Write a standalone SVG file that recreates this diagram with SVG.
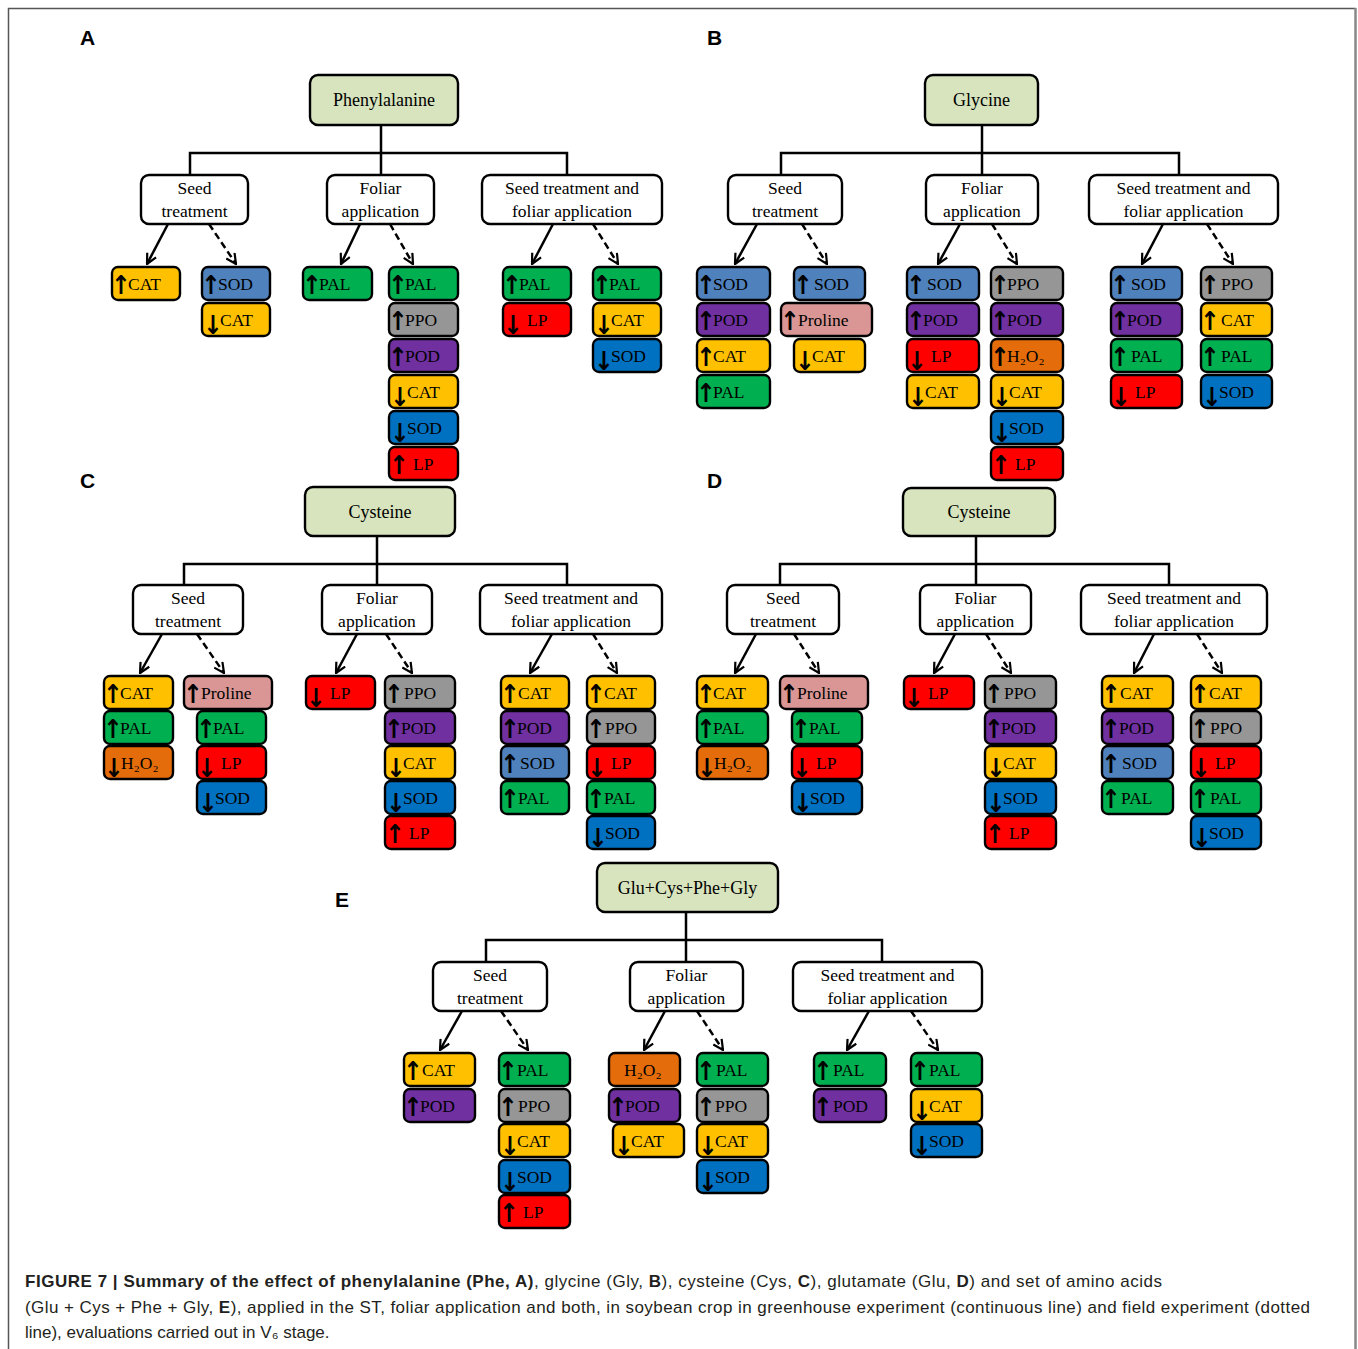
<svg xmlns="http://www.w3.org/2000/svg" width="1358" height="1349" viewBox="0 0 1358 1349">
<style>
.it rect,.hd rect,.rt rect{stroke:#000;stroke-width:2.4}
.hd rect{fill:#fff}
.rt rect{fill:#d7e4bd}
.cat rect{fill:#ffc000}.sodu rect{fill:#4f81bd}.sodd rect{fill:#0070c0}.pal rect{fill:#00b050}.ppo rect{fill:#969696}.pod rect{fill:#7030a0}.lp rect{fill:#ff0000}.pro rect{fill:#d99694}.h2o rect{fill:#e46c0a}
text.t{font-family:"Liberation Serif","Times New Roman","DejaVu Serif",serif;font-size:17.5px;fill:#000}
.a{font-family:"DejaVu Sans Condensed","DejaVu Sans",sans-serif;font-size:26px;font-weight:bold;text-anchor:middle}
text.h{font-family:"Liberation Serif","Times New Roman",serif;font-size:17.5px;text-anchor:middle;fill:#000}
text.r{font-family:"Liberation Serif","Times New Roman",serif;font-size:18px;text-anchor:middle;fill:#000}
text.pl{font-family:"Liberation Sans",Arial,sans-serif;font-size:21px;font-weight:bold;fill:#000}
text.cap{font-family:"Liberation Sans",Arial,sans-serif;font-size:17px;fill:#231f20}
.ln{fill:none;stroke:#000;stroke-width:2.5}
.so{fill:none;stroke:#000;stroke-width:2.5;marker-end:url(#ah)}
.da{fill:none;stroke:#000;stroke-width:2.5;stroke-dasharray:7 4;marker-end:url(#ah)}
</style>
<defs>
<marker id="ah" markerUnits="userSpaceOnUse" viewBox="0 0 12 12" refX="11" refY="6" markerWidth="12" markerHeight="12" orient="auto">
<path d="M1,1 L11,6 L1,11" fill="none" stroke="#000" stroke-width="2.2"/>
</marker>
</defs>
<rect x="0" y="0" width="1358" height="1349" fill="#fff"/>
<g id="frame" fill="none">
<path d="M8.5,1349 V8.5 H1356" stroke="#555" stroke-width="1.5"/>
<path d="M1355.5,8 V1349" stroke="#888" stroke-width="2.5"/>
</g>
<g id="panel-labels">
<text class="pl" x="80" y="45">A</text>
<text class="pl" x="707" y="45">B</text>
<text class="pl" x="80" y="488">C</text>
<text class="pl" x="707" y="488">D</text>
<text class="pl" x="335" y="907">E</text>
</g>
<g id="connectors">
<path class="ln" d="M381,125 V153 M190,175 V153 H567 V175 M381,153 V175"/>
<path class="ln" d="M982,125 V153 M781,175 V153 H1179 V175 M982,153 V175"/>
<path class="ln" d="M377,536 V564 M184,585 V564 H567 V585 M377,564 V585"/>
<path class="ln" d="M976,536 V564 M780,585 V564 H1169 V585 M976,564 V585"/>
<path class="ln" d="M686,912 V940 M486,962 V940 H882 V962 M686,940 V962"/>
<path class="so" d="M168,224 L147,264"/><path class="da" d="M209,224 L236,264"/>
<path class="so" d="M360,224 L341,264"/><path class="da" d="M390,224 L413,264"/>
<path class="so" d="M553,224 L532,264"/><path class="da" d="M593,224 L618,264"/>
<path class="so" d="M757,224 L735,264"/><path class="da" d="M802,224 L827,264"/>
<path class="so" d="M960,224 L938,264"/><path class="da" d="M992,224 L1017,264"/>
<path class="so" d="M1163,224 L1142,264"/><path class="da" d="M1207,224 L1233,264"/>
<path class="so" d="M162,634 L140,673"/><path class="da" d="M197,634 L224,673"/>
<path class="so" d="M357,634 L336,673"/><path class="da" d="M386,634 L412,673"/>
<path class="so" d="M552,634 L530,673"/><path class="da" d="M593,634 L617,673"/>
<path class="so" d="M756,634 L735,673"/><path class="da" d="M794,634 L819,673"/>
<path class="so" d="M955,634 L934,673"/><path class="da" d="M986,634 L1011,673"/>
<path class="so" d="M1154,634 L1134,673"/><path class="da" d="M1197,634 L1222,673"/>
<path class="so" d="M462,1011 L440,1050"/><path class="da" d="M501,1011 L528,1050"/>
<path class="so" d="M665,1011 L644,1050"/><path class="da" d="M697,1011 L723,1050"/>
<path class="so" d="M869,1011 L847,1050"/><path class="da" d="M911,1011 L938,1050"/>
</g>
<g id="A-root" class="rt"><rect x="310" y="75" width="148" height="50" rx="8"/><text class="r" x="384" y="106">Phenylalanine</text></g>
<g id="A-seed" class="hd"><rect x="141" y="175" width="107" height="49" rx="8"/><text class="h" x="194.5" y="194">Seed</text><text class="h" x="194.5" y="217">treatment</text></g>
<g id="A-foliar" class="hd"><rect x="327" y="175" width="107" height="49" rx="8"/><text class="h" x="380.5" y="194">Foliar</text><text class="h" x="380.5" y="217">application</text></g>
<g id="A-both" class="hd"><rect x="482" y="175" width="180" height="49" rx="8"/><text class="h" x="572" y="194">Seed treatment and</text><text class="h" x="572" y="217">foliar application</text></g>
<g id="A-seed-greenhouse">
<g class="it cat" transform="translate(112,267)"><rect width="68" height="33" rx="6"/><text class="t"><tspan class="a" x="9" y="27">↑</tspan><tspan x="16" y="23">CAT</tspan></text></g>
</g>
<g id="A-seed-field">
<g class="it sodu" transform="translate(202,267)"><rect width="68" height="33" rx="6"/><text class="t"><tspan class="a" x="9" y="27">↑</tspan><tspan x="16" y="23">SOD</tspan></text></g>
<g class="it cat" transform="translate(202,303)"><rect width="68" height="33" rx="6"/><text class="t"><tspan class="a" x="11" y="31">↓</tspan><tspan x="18" y="23">CAT</tspan></text></g>
</g>
<g id="A-foliar-greenhouse">
<g class="it pal" transform="translate(303,267)"><rect width="69" height="33" rx="6"/><text class="t"><tspan class="a" x="9" y="27">↑</tspan><tspan x="16" y="23">PAL</tspan></text></g>
</g>
<g id="A-foliar-field">
<g class="it pal" transform="translate(389,267)"><rect width="69" height="33" rx="6"/><text class="t"><tspan class="a" x="9" y="27">↑</tspan><tspan x="16" y="23">PAL</tspan></text></g>
<g class="it ppo" transform="translate(389,303)"><rect width="69" height="33" rx="6"/><text class="t"><tspan class="a" x="9" y="27">↑</tspan><tspan x="16" y="23">PPO</tspan></text></g>
<g class="it pod" transform="translate(389,339)"><rect width="69" height="33" rx="6"/><text class="t"><tspan class="a" x="9" y="27">↑</tspan><tspan x="16" y="23">POD</tspan></text></g>
<g class="it cat" transform="translate(389,375)"><rect width="69" height="33" rx="6"/><text class="t"><tspan class="a" x="11" y="31">↓</tspan><tspan x="18" y="23">CAT</tspan></text></g>
<g class="it sodd" transform="translate(389,411)"><rect width="69" height="33" rx="6"/><text class="t"><tspan class="a" x="11" y="31">↓</tspan><tspan x="18" y="23">SOD</tspan></text></g>
<g class="it lp" transform="translate(389,447)"><rect width="69" height="33" rx="6"/><text class="t"><tspan class="a" x="10" y="27">↑</tspan><tspan x="24" y="23">LP</tspan></text></g>
</g>
<g id="A-both-greenhouse">
<g class="it pal" transform="translate(503,267)"><rect width="68" height="33" rx="6"/><text class="t"><tspan class="a" x="9" y="27">↑</tspan><tspan x="16" y="23">PAL</tspan></text></g>
<g class="it lp" transform="translate(503,303)"><rect width="68" height="33" rx="6"/><text class="t"><tspan class="a" x="10" y="31">↓</tspan><tspan x="24" y="23">LP</tspan></text></g>
</g>
<g id="A-both-field">
<g class="it pal" transform="translate(593,267)"><rect width="68" height="33" rx="6"/><text class="t"><tspan class="a" x="9" y="27">↑</tspan><tspan x="16" y="23">PAL</tspan></text></g>
<g class="it cat" transform="translate(593,303)"><rect width="68" height="33" rx="6"/><text class="t"><tspan class="a" x="11" y="31">↓</tspan><tspan x="18" y="23">CAT</tspan></text></g>
<g class="it sodd" transform="translate(593,339)"><rect width="68" height="33" rx="6"/><text class="t"><tspan class="a" x="11" y="31">↓</tspan><tspan x="18" y="23">SOD</tspan></text></g>
</g>
<g id="B-root" class="rt"><rect x="925" y="75" width="113" height="50" rx="8"/><text class="r" x="981.5" y="106">Glycine</text></g>
<g id="B-seed" class="hd"><rect x="728" y="175" width="114" height="49" rx="8"/><text class="h" x="785" y="194">Seed</text><text class="h" x="785" y="217">treatment</text></g>
<g id="B-foliar" class="hd"><rect x="926" y="175" width="112" height="49" rx="8"/><text class="h" x="982" y="194">Foliar</text><text class="h" x="982" y="217">application</text></g>
<g id="B-both" class="hd"><rect x="1089" y="175" width="189" height="49" rx="8"/><text class="h" x="1183.5" y="194">Seed treatment and</text><text class="h" x="1183.5" y="217">foliar application</text></g>
<g id="B-seed-greenhouse">
<g class="it sodu" transform="translate(697,267)"><rect width="73" height="33" rx="6"/><text class="t"><tspan class="a" x="9" y="27">↑</tspan><tspan x="16" y="23">SOD</tspan></text></g>
<g class="it pod" transform="translate(697,303)"><rect width="73" height="33" rx="6"/><text class="t"><tspan class="a" x="9" y="27">↑</tspan><tspan x="16" y="23">POD</tspan></text></g>
<g class="it cat" transform="translate(697,339)"><rect width="73" height="33" rx="6"/><text class="t"><tspan class="a" x="9" y="27">↑</tspan><tspan x="16" y="23">CAT</tspan></text></g>
<g class="it pal" transform="translate(697,375)"><rect width="73" height="33" rx="6"/><text class="t"><tspan class="a" x="9" y="27">↑</tspan><tspan x="16" y="23">PAL</tspan></text></g>
</g>
<g id="B-seed-field">
<g class="it sodu" transform="translate(794,267)"><rect width="71" height="33" rx="6"/><text class="t"><tspan class="a" x="9" y="27">↑</tspan><tspan x="20" y="23">SOD</tspan></text></g>
<g class="it pro" transform="translate(781,303)"><rect width="91" height="33" rx="6"/><text class="t"><tspan class="a" x="9" y="27">↑</tspan><tspan x="17" y="23">Proline</tspan></text></g>
<g class="it cat" transform="translate(794,339)"><rect width="71" height="33" rx="6"/><text class="t"><tspan class="a" x="11" y="31">↓</tspan><tspan x="18" y="23">CAT</tspan></text></g>
</g>
<g id="B-foliar-greenhouse">
<g class="it sodu" transform="translate(907,267)"><rect width="72" height="33" rx="6"/><text class="t"><tspan class="a" x="9" y="27">↑</tspan><tspan x="20" y="23">SOD</tspan></text></g>
<g class="it pod" transform="translate(907,303)"><rect width="72" height="33" rx="6"/><text class="t"><tspan class="a" x="9" y="27">↑</tspan><tspan x="16" y="23">POD</tspan></text></g>
<g class="it lp" transform="translate(907,339)"><rect width="72" height="33" rx="6"/><text class="t"><tspan class="a" x="10" y="31">↓</tspan><tspan x="24" y="23">LP</tspan></text></g>
<g class="it cat" transform="translate(907,375)"><rect width="72" height="33" rx="6"/><text class="t"><tspan class="a" x="11" y="31">↓</tspan><tspan x="18" y="23">CAT</tspan></text></g>
</g>
<g id="B-foliar-field">
<g class="it ppo" transform="translate(991,267)"><rect width="72" height="33" rx="6"/><text class="t"><tspan class="a" x="9" y="27">↑</tspan><tspan x="16" y="23">PPO</tspan></text></g>
<g class="it pod" transform="translate(991,303)"><rect width="72" height="33" rx="6"/><text class="t"><tspan class="a" x="9" y="27">↑</tspan><tspan x="16" y="23">POD</tspan></text></g>
<g class="it h2o" transform="translate(991,339)"><rect width="72" height="33" rx="6"/><text class="t"><tspan class="a" x="9" y="27">↑</tspan><tspan x="16" y="23">H₂O₂</tspan></text></g>
<g class="it cat" transform="translate(991,375)"><rect width="72" height="33" rx="6"/><text class="t"><tspan class="a" x="11" y="31">↓</tspan><tspan x="18" y="23">CAT</tspan></text></g>
<g class="it sodd" transform="translate(991,411)"><rect width="72" height="33" rx="6"/><text class="t"><tspan class="a" x="11" y="31">↓</tspan><tspan x="18" y="23">SOD</tspan></text></g>
<g class="it lp" transform="translate(991,447)"><rect width="72" height="33" rx="6"/><text class="t"><tspan class="a" x="10" y="27">↑</tspan><tspan x="24" y="23">LP</tspan></text></g>
</g>
<g id="B-both-greenhouse">
<g class="it sodu" transform="translate(1111,267)"><rect width="71" height="33" rx="6"/><text class="t"><tspan class="a" x="9" y="27">↑</tspan><tspan x="20" y="23">SOD</tspan></text></g>
<g class="it pod" transform="translate(1111,303)"><rect width="71" height="33" rx="6"/><text class="t"><tspan class="a" x="9" y="27">↑</tspan><tspan x="16" y="23">POD</tspan></text></g>
<g class="it pal" transform="translate(1111,339)"><rect width="71" height="33" rx="6"/><text class="t"><tspan class="a" x="9" y="27">↑</tspan><tspan x="20" y="23">PAL</tspan></text></g>
<g class="it lp" transform="translate(1111,375)"><rect width="71" height="33" rx="6"/><text class="t"><tspan class="a" x="10" y="31">↓</tspan><tspan x="24" y="23">LP</tspan></text></g>
</g>
<g id="B-both-field">
<g class="it ppo" transform="translate(1201,267)"><rect width="71" height="33" rx="6"/><text class="t"><tspan class="a" x="9" y="27">↑</tspan><tspan x="20" y="23">PPO</tspan></text></g>
<g class="it cat" transform="translate(1201,303)"><rect width="71" height="33" rx="6"/><text class="t"><tspan class="a" x="9" y="27">↑</tspan><tspan x="20" y="23">CAT</tspan></text></g>
<g class="it pal" transform="translate(1201,339)"><rect width="71" height="33" rx="6"/><text class="t"><tspan class="a" x="9" y="27">↑</tspan><tspan x="20" y="23">PAL</tspan></text></g>
<g class="it sodd" transform="translate(1201,375)"><rect width="71" height="33" rx="6"/><text class="t"><tspan class="a" x="11" y="31">↓</tspan><tspan x="18" y="23">SOD</tspan></text></g>
</g>
<g id="C-root" class="rt"><rect x="305" y="487" width="150" height="49" rx="8"/><text class="r" x="380" y="518">Cysteine</text></g>
<g id="C-seed" class="hd"><rect x="133" y="585" width="110" height="49" rx="8"/><text class="h" x="188" y="604">Seed</text><text class="h" x="188" y="627">treatment</text></g>
<g id="C-foliar" class="hd"><rect x="322" y="585" width="110" height="49" rx="8"/><text class="h" x="377" y="604">Foliar</text><text class="h" x="377" y="627">application</text></g>
<g id="C-both" class="hd"><rect x="480" y="585" width="182" height="49" rx="8"/><text class="h" x="571" y="604">Seed treatment and</text><text class="h" x="571" y="627">foliar application</text></g>
<g id="C-seed-greenhouse">
<g class="it cat" transform="translate(104,676)"><rect width="69" height="33" rx="6"/><text class="t"><tspan class="a" x="9" y="27">↑</tspan><tspan x="16" y="23">CAT</tspan></text></g>
<g class="it pal" transform="translate(104,711)"><rect width="69" height="33" rx="6"/><text class="t"><tspan class="a" x="9" y="27">↑</tspan><tspan x="16" y="23">PAL</tspan></text></g>
<g class="it h2o" transform="translate(104,746)"><rect width="69" height="33" rx="6"/><text class="t"><tspan class="a" x="10" y="31">↓</tspan><tspan x="17" y="23">H₂O₂</tspan></text></g>
</g>
<g id="C-seed-field">
<g class="it pro" transform="translate(184,676)"><rect width="88" height="33" rx="6"/><text class="t"><tspan class="a" x="9" y="27">↑</tspan><tspan x="17" y="23">Proline</tspan></text></g>
<g class="it pal" transform="translate(197,711)"><rect width="69" height="33" rx="6"/><text class="t"><tspan class="a" x="9" y="27">↑</tspan><tspan x="16" y="23">PAL</tspan></text></g>
<g class="it lp" transform="translate(197,746)"><rect width="69" height="33" rx="6"/><text class="t"><tspan class="a" x="10" y="31">↓</tspan><tspan x="24" y="23">LP</tspan></text></g>
<g class="it sodd" transform="translate(197,781)"><rect width="69" height="33" rx="6"/><text class="t"><tspan class="a" x="11" y="31">↓</tspan><tspan x="18" y="23">SOD</tspan></text></g>
</g>
<g id="C-foliar-greenhouse">
<g class="it lp" transform="translate(306,676)"><rect width="69" height="33" rx="6"/><text class="t"><tspan class="a" x="10" y="31">↓</tspan><tspan x="24" y="23">LP</tspan></text></g>
</g>
<g id="C-foliar-field">
<g class="it ppo" transform="translate(385,676)"><rect width="70" height="33" rx="6"/><text class="t"><tspan class="a" x="9" y="27">↑</tspan><tspan x="19" y="23">PPO</tspan></text></g>
<g class="it pod" transform="translate(385,711)"><rect width="70" height="33" rx="6"/><text class="t"><tspan class="a" x="9" y="27">↑</tspan><tspan x="16" y="23">POD</tspan></text></g>
<g class="it cat" transform="translate(385,746)"><rect width="70" height="33" rx="6"/><text class="t"><tspan class="a" x="11" y="31">↓</tspan><tspan x="18" y="23">CAT</tspan></text></g>
<g class="it sodd" transform="translate(385,781)"><rect width="70" height="33" rx="6"/><text class="t"><tspan class="a" x="11" y="31">↓</tspan><tspan x="18" y="23">SOD</tspan></text></g>
<g class="it lp" transform="translate(385,816)"><rect width="70" height="33" rx="6"/><text class="t"><tspan class="a" x="10" y="27">↑</tspan><tspan x="24" y="23">LP</tspan></text></g>
</g>
<g id="C-both-greenhouse">
<g class="it cat" transform="translate(501,676)"><rect width="68" height="33" rx="6"/><text class="t"><tspan class="a" x="9" y="27">↑</tspan><tspan x="17" y="23">CAT</tspan></text></g>
<g class="it pod" transform="translate(501,711)"><rect width="68" height="33" rx="6"/><text class="t"><tspan class="a" x="9" y="27">↑</tspan><tspan x="16" y="23">POD</tspan></text></g>
<g class="it sodu" transform="translate(501,746)"><rect width="68" height="33" rx="6"/><text class="t"><tspan class="a" x="9" y="27">↑</tspan><tspan x="19" y="23">SOD</tspan></text></g>
<g class="it pal" transform="translate(501,781)"><rect width="68" height="33" rx="6"/><text class="t"><tspan class="a" x="9" y="27">↑</tspan><tspan x="17" y="23">PAL</tspan></text></g>
</g>
<g id="C-both-field">
<g class="it cat" transform="translate(587,676)"><rect width="68" height="33" rx="6"/><text class="t"><tspan class="a" x="9" y="27">↑</tspan><tspan x="17" y="23">CAT</tspan></text></g>
<g class="it ppo" transform="translate(587,711)"><rect width="68" height="33" rx="6"/><text class="t"><tspan class="a" x="9" y="27">↑</tspan><tspan x="18" y="23">PPO</tspan></text></g>
<g class="it lp" transform="translate(587,746)"><rect width="68" height="33" rx="6"/><text class="t"><tspan class="a" x="10" y="31">↓</tspan><tspan x="24" y="23">LP</tspan></text></g>
<g class="it pal" transform="translate(587,781)"><rect width="68" height="33" rx="6"/><text class="t"><tspan class="a" x="9" y="27">↑</tspan><tspan x="17" y="23">PAL</tspan></text></g>
<g class="it sodd" transform="translate(587,816)"><rect width="68" height="33" rx="6"/><text class="t"><tspan class="a" x="11" y="31">↓</tspan><tspan x="18" y="23">SOD</tspan></text></g>
</g>
<g id="D-root" class="rt"><rect x="903" y="488" width="152" height="48" rx="8"/><text class="r" x="979" y="518">Cysteine</text></g>
<g id="D-seed" class="hd"><rect x="727" y="585" width="112" height="49" rx="8"/><text class="h" x="783" y="604">Seed</text><text class="h" x="783" y="627">treatment</text></g>
<g id="D-foliar" class="hd"><rect x="920" y="585" width="111" height="49" rx="8"/><text class="h" x="975.5" y="604">Foliar</text><text class="h" x="975.5" y="627">application</text></g>
<g id="D-both" class="hd"><rect x="1081" y="585" width="186" height="49" rx="8"/><text class="h" x="1174" y="604">Seed treatment and</text><text class="h" x="1174" y="627">foliar application</text></g>
<g id="D-seed-greenhouse">
<g class="it cat" transform="translate(697,676)"><rect width="71" height="33" rx="6"/><text class="t"><tspan class="a" x="9" y="27">↑</tspan><tspan x="16" y="23">CAT</tspan></text></g>
<g class="it pal" transform="translate(697,711)"><rect width="71" height="33" rx="6"/><text class="t"><tspan class="a" x="9" y="27">↑</tspan><tspan x="16" y="23">PAL</tspan></text></g>
<g class="it h2o" transform="translate(697,746)"><rect width="71" height="33" rx="6"/><text class="t"><tspan class="a" x="10" y="31">↓</tspan><tspan x="17" y="23">H₂O₂</tspan></text></g>
</g>
<g id="D-seed-field">
<g class="it pro" transform="translate(780,676)"><rect width="88" height="33" rx="6"/><text class="t"><tspan class="a" x="9" y="27">↑</tspan><tspan x="17" y="23">Proline</tspan></text></g>
<g class="it pal" transform="translate(792,711)"><rect width="70" height="33" rx="6"/><text class="t"><tspan class="a" x="9" y="27">↑</tspan><tspan x="17" y="23">PAL</tspan></text></g>
<g class="it lp" transform="translate(792,746)"><rect width="70" height="33" rx="6"/><text class="t"><tspan class="a" x="10" y="31">↓</tspan><tspan x="24" y="23">LP</tspan></text></g>
<g class="it sodd" transform="translate(792,781)"><rect width="70" height="33" rx="6"/><text class="t"><tspan class="a" x="11" y="31">↓</tspan><tspan x="18" y="23">SOD</tspan></text></g>
</g>
<g id="D-foliar-greenhouse">
<g class="it lp" transform="translate(904,676)"><rect width="70" height="33" rx="6"/><text class="t"><tspan class="a" x="10" y="31">↓</tspan><tspan x="24" y="23">LP</tspan></text></g>
</g>
<g id="D-foliar-field">
<g class="it ppo" transform="translate(985,676)"><rect width="71" height="33" rx="6"/><text class="t"><tspan class="a" x="9" y="27">↑</tspan><tspan x="19" y="23">PPO</tspan></text></g>
<g class="it pod" transform="translate(985,711)"><rect width="71" height="33" rx="6"/><text class="t"><tspan class="a" x="9" y="27">↑</tspan><tspan x="16" y="23">POD</tspan></text></g>
<g class="it cat" transform="translate(985,746)"><rect width="71" height="33" rx="6"/><text class="t"><tspan class="a" x="11" y="31">↓</tspan><tspan x="18" y="23">CAT</tspan></text></g>
<g class="it sodd" transform="translate(985,781)"><rect width="71" height="33" rx="6"/><text class="t"><tspan class="a" x="11" y="31">↓</tspan><tspan x="18" y="23">SOD</tspan></text></g>
<g class="it lp" transform="translate(985,816)"><rect width="71" height="33" rx="6"/><text class="t"><tspan class="a" x="10" y="27">↑</tspan><tspan x="24" y="23">LP</tspan></text></g>
</g>
<g id="D-both-greenhouse">
<g class="it cat" transform="translate(1102,676)"><rect width="71" height="33" rx="6"/><text class="t"><tspan class="a" x="9" y="27">↑</tspan><tspan x="18" y="23">CAT</tspan></text></g>
<g class="it pod" transform="translate(1102,711)"><rect width="71" height="33" rx="6"/><text class="t"><tspan class="a" x="9" y="27">↑</tspan><tspan x="17" y="23">POD</tspan></text></g>
<g class="it sodu" transform="translate(1102,746)"><rect width="71" height="33" rx="6"/><text class="t"><tspan class="a" x="9" y="27">↑</tspan><tspan x="20" y="23">SOD</tspan></text></g>
<g class="it pal" transform="translate(1102,781)"><rect width="71" height="33" rx="6"/><text class="t"><tspan class="a" x="9" y="27">↑</tspan><tspan x="19" y="23">PAL</tspan></text></g>
</g>
<g id="D-both-field">
<g class="it cat" transform="translate(1191,676)"><rect width="70" height="33" rx="6"/><text class="t"><tspan class="a" x="9" y="27">↑</tspan><tspan x="18" y="23">CAT</tspan></text></g>
<g class="it ppo" transform="translate(1191,711)"><rect width="70" height="33" rx="6"/><text class="t"><tspan class="a" x="9" y="27">↑</tspan><tspan x="19" y="23">PPO</tspan></text></g>
<g class="it lp" transform="translate(1191,746)"><rect width="70" height="33" rx="6"/><text class="t"><tspan class="a" x="10" y="31">↓</tspan><tspan x="24" y="23">LP</tspan></text></g>
<g class="it pal" transform="translate(1191,781)"><rect width="70" height="33" rx="6"/><text class="t"><tspan class="a" x="9" y="27">↑</tspan><tspan x="19" y="23">PAL</tspan></text></g>
<g class="it sodd" transform="translate(1191,816)"><rect width="70" height="33" rx="6"/><text class="t"><tspan class="a" x="11" y="31">↓</tspan><tspan x="18" y="23">SOD</tspan></text></g>
</g>
<g id="E-root" class="rt"><rect x="597" y="863" width="181" height="49" rx="8"/><text class="r" x="687.5" y="894">Glu+Cys+Phe+Gly</text></g>
<g id="E-seed" class="hd"><rect x="433" y="962" width="114" height="49" rx="8"/><text class="h" x="490" y="981">Seed</text><text class="h" x="490" y="1004">treatment</text></g>
<g id="E-foliar" class="hd"><rect x="630" y="962" width="113" height="49" rx="8"/><text class="h" x="686.5" y="981">Foliar</text><text class="h" x="686.5" y="1004">application</text></g>
<g id="E-both" class="hd"><rect x="793" y="962" width="189" height="49" rx="8"/><text class="h" x="887.5" y="981">Seed treatment and</text><text class="h" x="887.5" y="1004">foliar application</text></g>
<g id="E-seed-greenhouse">
<g class="it cat" transform="translate(404,1053)"><rect width="71" height="33" rx="6"/><text class="t"><tspan class="a" x="9" y="27">↑</tspan><tspan x="18" y="23">CAT</tspan></text></g>
<g class="it pod" transform="translate(404,1089)"><rect width="71" height="33" rx="6"/><text class="t"><tspan class="a" x="9" y="27">↑</tspan><tspan x="16" y="23">POD</tspan></text></g>
</g>
<g id="E-seed-field">
<g class="it pal" transform="translate(499,1053)"><rect width="71" height="33" rx="6"/><text class="t"><tspan class="a" x="9" y="27">↑</tspan><tspan x="18" y="23">PAL</tspan></text></g>
<g class="it ppo" transform="translate(499,1089)"><rect width="71" height="33" rx="6"/><text class="t"><tspan class="a" x="9" y="27">↑</tspan><tspan x="19" y="23">PPO</tspan></text></g>
<g class="it cat" transform="translate(499,1124)"><rect width="71" height="33" rx="6"/><text class="t"><tspan class="a" x="11" y="31">↓</tspan><tspan x="18" y="23">CAT</tspan></text></g>
<g class="it sodd" transform="translate(499,1160)"><rect width="71" height="33" rx="6"/><text class="t"><tspan class="a" x="11" y="31">↓</tspan><tspan x="18" y="23">SOD</tspan></text></g>
<g class="it lp" transform="translate(499,1195)"><rect width="71" height="33" rx="6"/><text class="t"><tspan class="a" x="10" y="27">↑</tspan><tspan x="24" y="23">LP</tspan></text></g>
</g>
<g id="E-foliar-greenhouse">
<g class="it h2o" transform="translate(609,1053)"><rect width="71" height="33" rx="6"/><text class="t"><tspan x="15" y="23">H₂O₂</tspan></text></g>
<g class="it pod" transform="translate(609,1089)"><rect width="71" height="33" rx="6"/><text class="t"><tspan class="a" x="9" y="27">↑</tspan><tspan x="16" y="23">POD</tspan></text></g>
<g class="it cat" transform="translate(613,1124)"><rect width="71" height="33" rx="6"/><text class="t"><tspan class="a" x="11" y="31">↓</tspan><tspan x="18" y="23">CAT</tspan></text></g>
</g>
<g id="E-foliar-field">
<g class="it pal" transform="translate(697,1053)"><rect width="71" height="33" rx="6"/><text class="t"><tspan class="a" x="9" y="27">↑</tspan><tspan x="19" y="23">PAL</tspan></text></g>
<g class="it ppo" transform="translate(697,1089)"><rect width="71" height="33" rx="6"/><text class="t"><tspan class="a" x="9" y="27">↑</tspan><tspan x="18" y="23">PPO</tspan></text></g>
<g class="it cat" transform="translate(697,1124)"><rect width="71" height="33" rx="6"/><text class="t"><tspan class="a" x="11" y="31">↓</tspan><tspan x="18" y="23">CAT</tspan></text></g>
<g class="it sodd" transform="translate(697,1160)"><rect width="71" height="33" rx="6"/><text class="t"><tspan class="a" x="11" y="31">↓</tspan><tspan x="18" y="23">SOD</tspan></text></g>
</g>
<g id="E-both-greenhouse">
<g class="it pal" transform="translate(814,1053)"><rect width="72" height="33" rx="6"/><text class="t"><tspan class="a" x="9" y="27">↑</tspan><tspan x="19" y="23">PAL</tspan></text></g>
<g class="it pod" transform="translate(814,1089)"><rect width="72" height="33" rx="6"/><text class="t"><tspan class="a" x="9" y="27">↑</tspan><tspan x="19" y="23">POD</tspan></text></g>
</g>
<g id="E-both-field">
<g class="it pal" transform="translate(911,1053)"><rect width="71" height="33" rx="6"/><text class="t"><tspan class="a" x="9" y="27">↑</tspan><tspan x="18" y="23">PAL</tspan></text></g>
<g class="it cat" transform="translate(911,1089)"><rect width="71" height="33" rx="6"/><text class="t"><tspan class="a" x="11" y="31">↓</tspan><tspan x="18" y="23">CAT</tspan></text></g>
<g class="it sodd" transform="translate(911,1124)"><rect width="71" height="33" rx="6"/><text class="t"><tspan class="a" x="11" y="31">↓</tspan><tspan x="18" y="23">SOD</tspan></text></g>
</g>
<g id="caption">
<text class="cap" x="25" y="1287" textLength="1137"><tspan font-weight="bold">FIGURE 7 | Summary of the effect of phenylalanine (Phe, A)</tspan>, glycine (Gly, <tspan font-weight="bold">B</tspan>), cysteine (Cys, <tspan font-weight="bold">C</tspan>), glutamate (Glu, <tspan font-weight="bold">D</tspan>) and set of amino acids</text>
<text class="cap" x="25" y="1313" textLength="1285">(Glu + Cys + Phe + Gly, <tspan font-weight="bold">E</tspan>), applied in the ST, foliar application and both, in soybean crop in greenhouse experiment (continuous line) and field experiment (dotted</text>
<text class="cap" x="25" y="1338">line), evaluations carried out in V₆ stage.</text>
</g>
</svg>
